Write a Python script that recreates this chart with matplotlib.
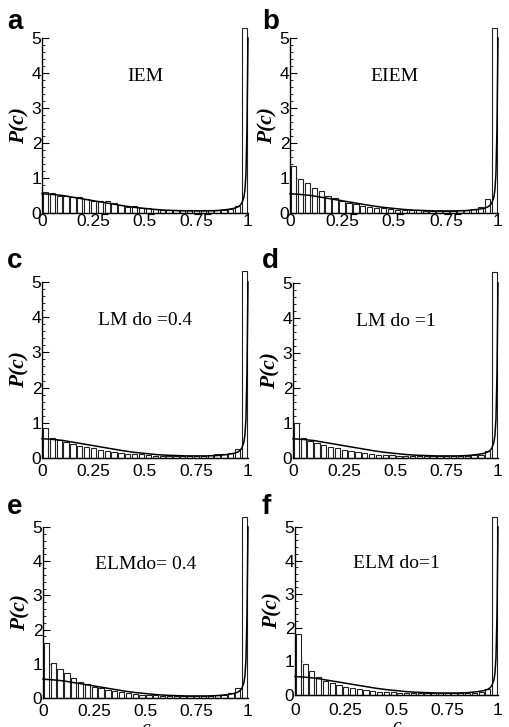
import matplotlib
matplotlib.use("Agg")
import matplotlib.pyplot as plt
import numpy as np
from matplotlib.ticker import MultipleLocator

# ---------------- data ----------------
n_bins = 30
bin_edges = [i / n_bins for i in range(n_bins + 1)]

hist_a = [0.60, 0.58, 0.50, 0.48, 0.47, 0.45, 0.40, 0.35, 0.33, 0.33,
          0.28, 0.22, 0.18, 0.20, 0.14, 0.13, 0.12, 0.10, 0.10, 0.10,
          0.08, 0.10, 0.10, 0.08, 0.08, 0.10, 0.10, 0.12, 0.20, 5.30]
hist_b = [1.35, 0.98, 0.85, 0.72, 0.62, 0.50, 0.42, 0.35, 0.28, 0.25,
          0.20, 0.17, 0.15, 0.13, 0.12, 0.10, 0.09, 0.08, 0.08, 0.07,
          0.07, 0.07, 0.07, 0.07, 0.08, 0.10, 0.12, 0.18, 0.40, 5.30]
hist_c = [0.85, 0.58, 0.50, 0.45, 0.40, 0.35, 0.32, 0.28, 0.24, 0.20,
          0.18, 0.15, 0.12, 0.10, 0.10, 0.08, 0.07, 0.06, 0.06, 0.06,
          0.06, 0.06, 0.06, 0.07, 0.08, 0.10, 0.12, 0.15, 0.25, 5.30]
hist_d = [1.00, 0.58, 0.50, 0.43, 0.36, 0.32, 0.28, 0.24, 0.20, 0.17,
          0.15, 0.12, 0.10, 0.09, 0.08, 0.07, 0.07, 0.06, 0.06, 0.06,
          0.05, 0.05, 0.05, 0.06, 0.06, 0.07, 0.08, 0.10, 0.20, 5.30]
hist_e = [1.60, 1.03, 0.85, 0.72, 0.58, 0.48, 0.40, 0.32, 0.28, 0.24,
          0.20, 0.17, 0.15, 0.12, 0.10, 0.10, 0.08, 0.07, 0.07, 0.06,
          0.06, 0.06, 0.06, 0.06, 0.07, 0.08, 0.10, 0.15, 0.28, 5.30]
hist_f = [1.82, 0.92, 0.70, 0.55, 0.42, 0.35, 0.30, 0.25, 0.20, 0.17,
          0.14, 0.12, 0.10, 0.09, 0.08, 0.07, 0.07, 0.06, 0.06, 0.05,
          0.05, 0.05, 0.05, 0.05, 0.06, 0.06, 0.07, 0.10, 0.18, 5.30]

curve_x = [0.0, 0.05, 0.1, 0.15, 0.2, 0.25, 0.3, 0.35, 0.4, 0.45, 0.5,
           0.55, 0.6, 0.65, 0.7, 0.75, 0.8, 0.85, 0.9, 0.93, 0.95, 0.96,
           0.97, 0.98, 0.985, 0.99, 0.995, 1.0]
curve_y = [0.55, 0.53, 0.50, 0.45, 0.40, 0.35, 0.30, 0.25, 0.20, 0.16, 0.13,
           0.10, 0.08, 0.07, 0.06, 0.06, 0.06, 0.07, 0.10, 0.13, 0.17, 0.21,
           0.28, 0.45, 0.65, 1.10, 2.40, 5.00]

letters = ["a", "b", "c", "d", "e", "f"]
titles = ["IEM", "EIEM", "LM do =0.4", "LM do =1", "ELMdo= 0.4", "ELM do=1"]
hists = [hist_a, hist_b, hist_c, hist_d, hist_e, hist_f]
xtick_vals = [0, 0.25, 0.5, 0.75, 1]
xtick_labels = ["0", "0.25", "0.5", "0.75", "1"]

# ---------------- layout (pixels: left, right, top, bottom) ----------------
W, H = 510, 727
boxes = [(42, 248, 38, 213), (290, 498, 38, 213),
         (42, 248, 282, 458), (293, 498, 283, 458),
         (43, 248, 527, 698), (295, 498, 527, 695)]
xpads = [1.0, 1.0, 4.5, 4.5, 4.5, 5.5]
clab_y = [None, None, None, None, -0.18, -0.19]

fig = plt.figure(figsize=(W / 100, H / 100), dpi=100)
fig.patch.set_facecolor("white")

sans = "Liberation Sans"
serif = "Liberation Serif"

bw = 1 / n_bins
for i, (box, hv) in enumerate(zip(boxes, hists)):
    L, R, T, B = box
    ax = fig.add_axes([L / W, 1 - B / H, (R - L) / W, (B - T) / H])
    lefts = np.array(bin_edges[:-1]) + 0.12 * bw
    ax.bar(lefts, hv, width=0.76 * bw, align="edge", facecolor="white",
           edgecolor="#222222", linewidth=0.8, clip_on=False, zorder=2)
    ax.plot(curve_x, curve_y, color="black", lw=1.1, zorder=3, clip_on=False)
    ax.set_xlim(0, 1)
    ax.set_ylim(0, 5)
    for s in ["top", "right"]:
        ax.spines[s].set_visible(False)
    ax.spines["left"].set_linewidth(1.0)
    ax.spines["bottom"].set_linewidth(1.0)
    ax.yaxis.set_major_locator(MultipleLocator(1))
    ax.yaxis.set_minor_locator(MultipleLocator(0.2))
    ax.tick_params(axis="y", which="major", direction="in", length=5, width=0.8,
                   labelsize=12.5, pad=0.5)
    ax.tick_params(axis="y", which="minor", direction="in", length=2.5, width=0.6)
    ax.set_xticks(xtick_vals)
    ax.set_xticklabels(xtick_labels)
    ax.tick_params(axis="x", length=0, labelsize=12.5, pad=xpads[i])
    for lab in ax.get_xticklabels() + ax.get_yticklabels():
        lab.set_fontfamily(sans)
    ax.text(0.5, 3.9, titles[i], ha="center", va="center", fontsize=14,
            family=serif)
    ax.text(-0.11, 0.5, "P(c)", rotation=90, transform=ax.transAxes,
            ha="center", va="center", fontsize=15.5, family=serif,
            style="italic", fontweight="bold")
    # panel letter
    lx = 7 / W if i % 2 == 0 else 262 / W
    ly_px = [29, 29, 268, 268, 514, 514][i]
    fig.text(lx, 1 - ly_px / H, letters[i], fontsize=20, fontweight="bold",
             family=sans, ha="left", va="baseline")
    if clab_y[i] is not None:
        ax.text(0.5, clab_y[i], "c", transform=ax.transAxes,
                ha="center", va="center", fontsize=14, family=serif,
                style="italic")

fig.savefig("out.png", dpi=100, facecolor="white")
